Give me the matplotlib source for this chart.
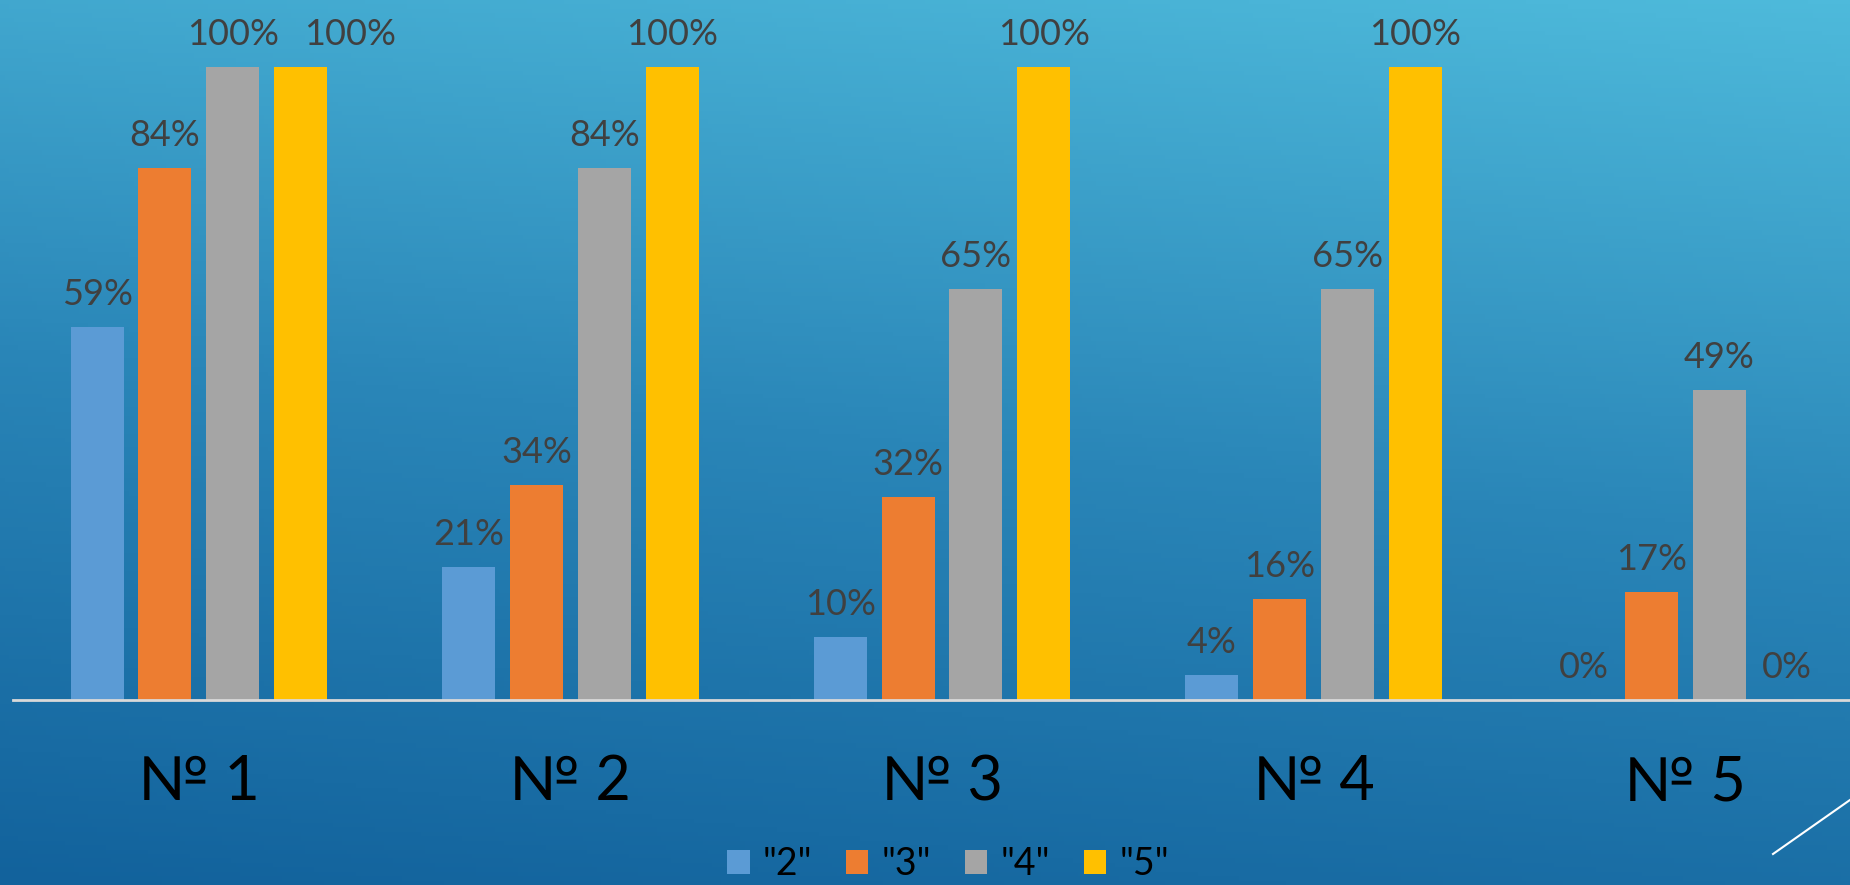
import numpy as np
import matplotlib.pyplot as plt
from matplotlib.patches import Patch
from matplotlib.lines import Line2D
from matplotlib.colors import LinearSegmentedColormap

plt.rcParams['font.family'] = ['Lato', 'DejaVu Sans']

# data
categories = ['№ 1', '№ 2', '№ 3', '№ 4', '№ 5']
series_names = ['"2"', '"3"', '"4"', '"5"']
grade2 = [59, 21, 10, 4, 0]
grade3 = [84, 34, 32, 16, 17]
grade4 = [100, 84, 65, 65, 49]
grade5 = [100, 100, 100, 100, 0]
values = [grade2, grade3, grade4, grade5]
colors = ['#5B9BD5', '#ED7D31', '#A5A5A5', '#FFC000']

W, H = 1850, 885
fig = plt.figure(figsize=(W / 100, H / 100), dpi=100)

# background gradient (dark bottom-left -> light top-right)
bg = fig.add_axes([0, 0, 1, 1])
yy, xx = np.mgrid[0:1:200j, 0:1:400j]
t = 0.82 * (1 - yy) + 0.18 * xx
cmap_bg = LinearSegmentedColormap.from_list('bg', ['#12629C', '#2A86B8', '#4EBADB'])
bg.imshow(t, cmap=cmap_bg, aspect='auto', extent=[0, 1, 0, 1], vmin=0, vmax=1)
bg.set_axis_off()

# plot area runs a bit past the right edge, like the cropped slide
ax = fig.add_axes([13 / W, 185 / H, 1858 / W, 700 / H])
ax.patch.set_alpha(0)
x = np.arange(len(categories))
width = 0.1426
step = 0.1825
for i, (vals, c) in enumerate(zip(values, colors)):
    pos = x + (i - 1.5) * step
    ax.bar(pos, vals, width=width, color=c, zorder=2)
    for j, (p, v) in enumerate(zip(pos, vals)):
        # the "5" label of the first group was nudged right in the original
        dx = 36 if (i == 3 and j == 0) else 0
        ax.annotate(f'{v}%', (p, v), xytext=(dx, 11.5), textcoords='offset points',
                    ha='center', va='bottom', fontsize=26, color='#404040')

ax.set_xlim(-0.5, len(categories) - 0.5)
ax.set_ylim(0, 100 * 700 / 633)
ax.set_yticks([])
ax.set_xticks(x)
ax.set_xticklabels(categories, fontsize=44, color='black')
ax.tick_params(axis='x', length=0, pad=39)
for s in ['top', 'right', 'left']:
    ax.spines[s].set_visible(False)
ax.spines['bottom'].set_color('#D9D9D9')
ax.spines['bottom'].set_linewidth(2)
ax.spines['bottom'].set_zorder(3)

handles = [Patch(facecolor=c, edgecolor='none') for c in colors]
fig.legend(handles, series_names, loc='center', ncol=4, frameon=False,
           bbox_to_anchor=(948 / W, 1 - 864 / H), fontsize=27,
           handlelength=0.6, handleheight=0.6, handletextpad=0.35,
           columnspacing=0.9, labelcolor='black', borderpad=0)

# decorative slide line in the bottom-right corner
fig.add_artist(Line2D([1773 / W, 1.02], [1 - 854 / H, 1 - 774 / H],
                      color='white', lw=1.5, transform=fig.transFigure))

fig.savefig('out.png', dpi=100)
